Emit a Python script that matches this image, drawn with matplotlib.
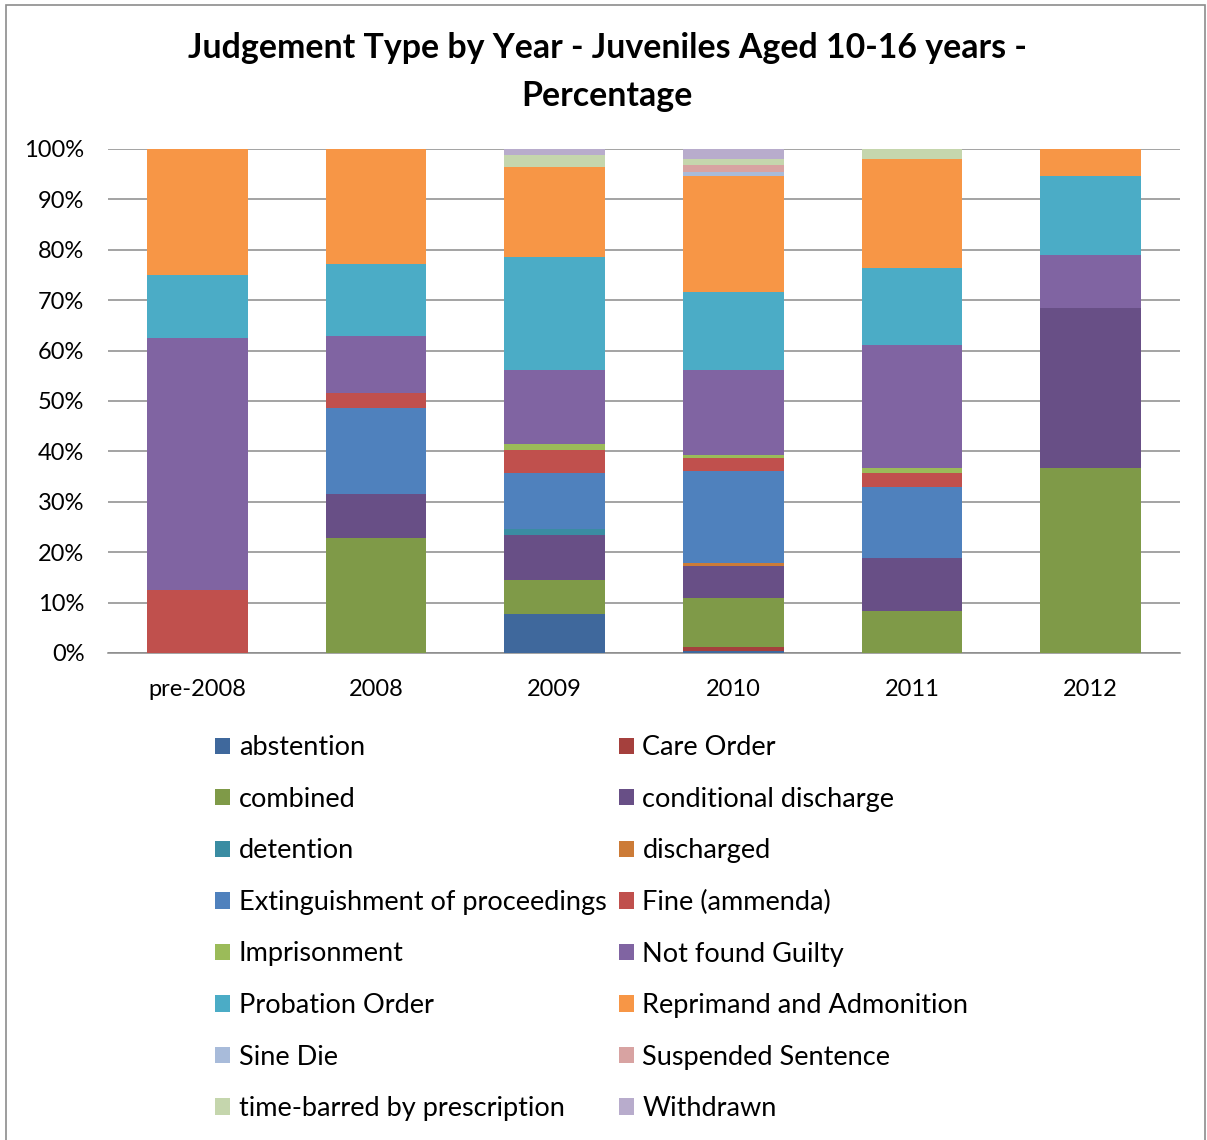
#!/usr/bin/env python3
"""Stacked percentage bar chart: judgement type by year for juveniles aged 10-16."""

import matplotlib
matplotlib.use("Agg")
import matplotlib.pyplot as plt
from matplotlib.patches import Rectangle, Patch

plt.rcParams['font.family'] = ['Lato', 'DejaVu Sans']

# Categories on the x axis
years = ['pre-2008', '2008', '2009', '2010', '2011', '2012']

# Percentage share of each judgement type per year
abstention = [0, 0, 7.8, 0.4, 0, 0]
care_order = [0, 0, 0, 0.8, 0, 0]
combined = [0, 22.9, 6.7, 9.7, 8.4, 36.8]
conditional_discharge = [0, 8.6, 8.9, 6.4, 10.4, 31.6]
detention = [0, 0, 1.3, 0, 0, 0]
discharged = [0, 0, 0, 0.6, 0, 0]
extinguishment = [0, 17.1, 11.1, 18.2, 14.1, 0]
fine = [12.5, 2.9, 4.5, 2.5, 2.9, 0]
imprisonment = [0, 0, 1.2, 0.6, 1.0, 0]
not_found_guilty = [50.0, 11.4, 14.6, 16.9, 24.4, 10.5]
probation_order = [12.5, 14.3, 22.5, 15.5, 15.1, 15.8]
reprimand = [25.0, 22.9, 17.9, 23.1, 21.7, 5.3]
sine_die = [0, 0, 0, 0.8, 0, 0]
suspended = [0, 0, 0, 1.3, 0, 0]
time_barred = [0, 0, 2.3, 1.2, 2.0, 0]
withdrawn = [0, 0, 1.2, 2.0, 0, 0]

labels = ['abstention', 'Care Order', 'combined', 'conditional discharge',
          'detention', 'discharged', 'Extinguishment of proceedings',
          'Fine (ammenda)', 'Imprisonment', 'Not found Guilty',
          'Probation Order', 'Reprimand and Admonition', 'Sine Die',
          'Suspended Sentence', 'time-barred by prescription', 'Withdrawn']
series = [abstention, care_order, combined, conditional_discharge, detention,
          discharged, extinguishment, fine, imprisonment, not_found_guilty,
          probation_order, reprimand, sine_die, suspended, time_barred, withdrawn]
colors = ['#3F689C', '#A5403D', '#7F9A48', '#684F86', '#3A8CA2', '#CC7B37',
          '#4F81BD', '#C0504D', '#9BBB59', '#8064A2', '#4BACC6', '#F79646',
          '#A8BBDA', '#D8A3A2', '#C5D6AD', '#B8ACCC']


def main():
    fig = plt.figure(figsize=(12.07, 11.40), dpi=100)
    ax = fig.add_axes([0.0895, 0.4272, 0.8881, 0.4421])

    x = list(range(len(years)))
    bottom = [0.0] * len(years)
    for vals, col in zip(series, colors):
        ax.bar(x, vals, width=0.565, bottom=bottom, color=col, linewidth=0, zorder=3)
        bottom = [b + v for b, v in zip(bottom, vals)]

    ax.set_xlim(-0.5, len(years) - 0.5)
    ax.set_ylim(0, 100)
    ax.set_yticks(range(0, 101, 10))
    ax.set_yticklabels([f'{v}%' for v in range(0, 101, 10)])
    ax.set_xticks(x)
    ax.set_xticklabels(years)
    ax.tick_params(axis='both', length=0, labelsize=17, colors='black')
    ax.tick_params(axis='y', pad=17)
    ax.tick_params(axis='x', pad=19)

    ax.yaxis.grid(True, color='#8a8a8a', linewidth=1.1, zorder=0)
    for side in ('top', 'right', 'left'):
        ax.spines[side].set_visible(False)
    ax.spines['bottom'].set_color('#8a8a8a')
    ax.spines['bottom'].set_linewidth(1.1)

    fig.text(0.503, 0.937, 'Judgement Type by Year - Juveniles Aged 10-16 years -\nPercentage',
             ha='center', va='center', fontsize=24.4, fontweight='bold', linespacing=1.62)

    # Legend is filled row by row: reorder so matplotlib's column fill matches
    handles = [Patch(facecolor=c, edgecolor='none') for c in colors]
    order = list(range(0, len(labels), 2)) + list(range(1, len(labels), 2))
    fig.legend([handles[i] for i in order], [labels[i] for i in order],
               loc='upper left', bbox_to_anchor=(0.178, 0.355), ncol=2,
               frameon=False, fontsize=19.5, handlelength=0.55, handleheight=0.55,
               handletextpad=0.33, columnspacing=0.45, labelspacing=0.98,
               borderaxespad=0, borderpad=0)

    fig.patches.append(Rectangle((0.005, -0.01), 0.993, 1.006, transform=fig.transFigure,
                                 fill=False, edgecolor='#8c8c8c', linewidth=1.2))

    plt.savefig('out.png', dpi=100)


if __name__ == "__main__":
    main()
